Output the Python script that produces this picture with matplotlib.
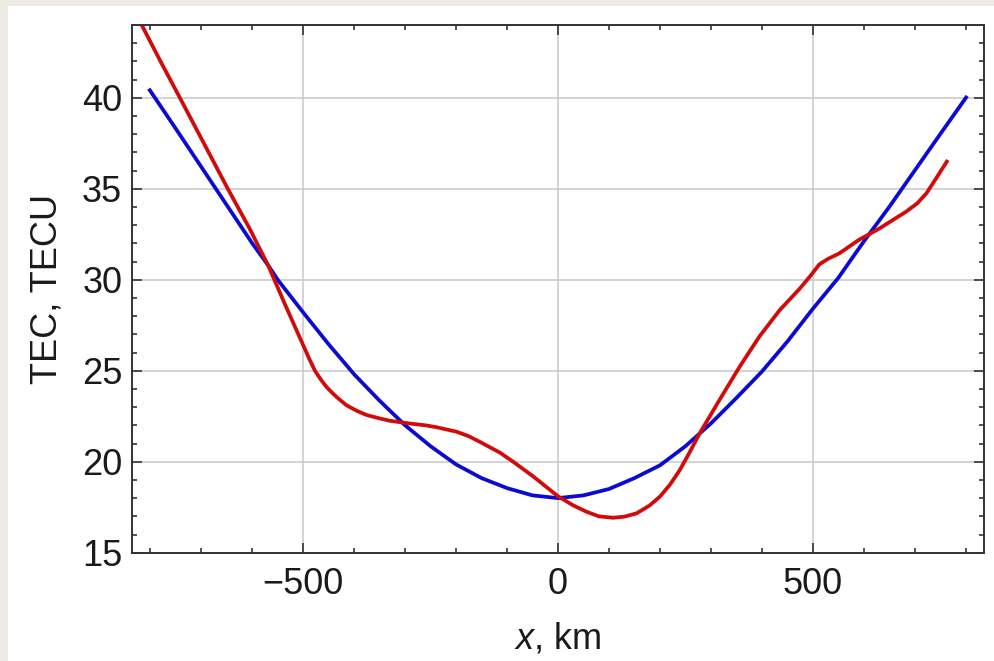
import numpy as np
import matplotlib
matplotlib.use("Agg")
import matplotlib.pyplot as plt
from matplotlib.patches import Rectangle
from matplotlib.ticker import MultipleLocator

plt.rcParams['font.family'] = ['Liberation Sans', 'DejaVu Sans']
plt.rcParams['mathtext.fontset'] = 'custom'
plt.rcParams['mathtext.rm'] = 'Liberation Sans'
plt.rcParams['mathtext.it'] = 'Liberation Sans:italic'

# model curve (blue)
model_x = [-803, -750, -700, -650, -600, -569, -550, -500, -450, -409, -400, -350, -300,
           -250, -200, -150, -100, -50, 0, 50, 100, 150, 200, 250, 300, 350, 400, 450,
           500, 550, 600, 650, 700, 750, 803]
model_tec = [40.5, 38.3, 36.2, 34.1, 32.0, 30.8, 30.0, 28.2, 26.45, 25.1, 24.8, 23.35, 22.0,
             20.85, 19.85, 19.1, 18.55, 18.15, 18.0, 18.15, 18.5, 19.1, 19.8, 20.85, 22.1,
             23.5, 24.95, 26.6, 28.4, 30.1, 32.1, 34.0, 36.0, 38.0, 40.1]

# measured curve (red)
meas_x = [-828, -780, -742, -695, -648, -605, -569, -535, -500, -488, -477, -465, -454,
          -440, -430, -415, -395, -376, -350, -330, -291, -260, -239, -199, -175, -154,
          -114, -88, -49, 0, 30, 56, 80, 108, 130, 154, 180, 200, 220, 239, 258, 278, 298,
          317, 356, 395, 435, 474, 495, 513, 530, 552, 591, 631, 683, 705, 723, 745, 765]
meas_tec = [44.6, 42.0, 40.0, 37.5, 35.0, 32.8, 30.8, 28.6, 26.4, 25.65, 25.0, 24.5, 24.1,
            23.7, 23.45, 23.1, 22.8, 22.57, 22.38, 22.25, 22.1, 22.0, 21.9, 21.65, 21.4,
            21.1, 20.5, 20.0, 19.2, 18.1, 17.6, 17.25, 17.0, 16.92, 16.98, 17.16, 17.6,
            18.08, 18.75, 19.54, 20.5, 21.56, 22.5, 23.4, 25.2, 26.87, 28.33, 29.5, 30.2,
            30.85, 31.15, 31.45, 32.2, 32.82, 33.74, 34.2, 34.75, 35.7, 36.58]

fig = plt.figure(figsize=(9.95, 6.61), dpi=100)
fig.patch.set_facecolor('white')
# beige page strips at top and left
beige = '#eeebe4'
fig.patches.append(Rectangle((0, 1 - 6/661), 1, 6/661, transform=fig.transFigure,
                             facecolor=beige, edgecolor='none', zorder=-10))
fig.patches.append(Rectangle((0, 0), 8/995, 1, transform=fig.transFigure,
                             facecolor=beige, edgecolor='none', zorder=-10))

ax = fig.add_axes([132/995, (661-552.7)/661, (984-132)/995, (552.7-25)/661])

ax.plot(model_x, model_tec, color='#0a0ad2', lw=2.7, solid_capstyle='butt',
        solid_joinstyle='round')
ax.plot(meas_x, meas_tec, color='#d20a0a', lw=2.7, solid_capstyle='butt',
        solid_joinstyle='round')

ax.set_xlim(-836, 836)
ax.set_ylim(15, 44)
ax.xaxis.set_major_locator(MultipleLocator(500))
ax.xaxis.set_minor_locator(MultipleLocator(100))
ax.yaxis.set_major_locator(MultipleLocator(5))
ax.yaxis.set_minor_locator(MultipleLocator(1))
ax.grid(True, which='major', color='#c8c8c8', lw=1.1)
ax.set_axisbelow(True)

ax.tick_params(which='both', direction='in', top=True, right=True,
               color='#333333', width=1.2, labelsize=26, labelcolor='#1a1a1a')
ax.tick_params(which='major', length=7)
ax.tick_params(which='minor', length=3.6)
ax.tick_params(axis='x', pad=10)
ax.tick_params(axis='y', pad=7)
ax.set_xticks([-500, 0, 500])
ax.set_xticklabels(['\u2212500', '0', '500'])

for s in ax.spines.values():
    s.set_color('#333333')
    s.set_linewidth(1.4)

ax.set_xlabel('$x$, km', fontsize=26, color='#1a1a1a', labelpad=14)
ax.set_ylabel('TEC, TECU', fontsize=26, color='#1a1a1a', labelpad=12.5)

fig.savefig('out.png', dpi=100)
